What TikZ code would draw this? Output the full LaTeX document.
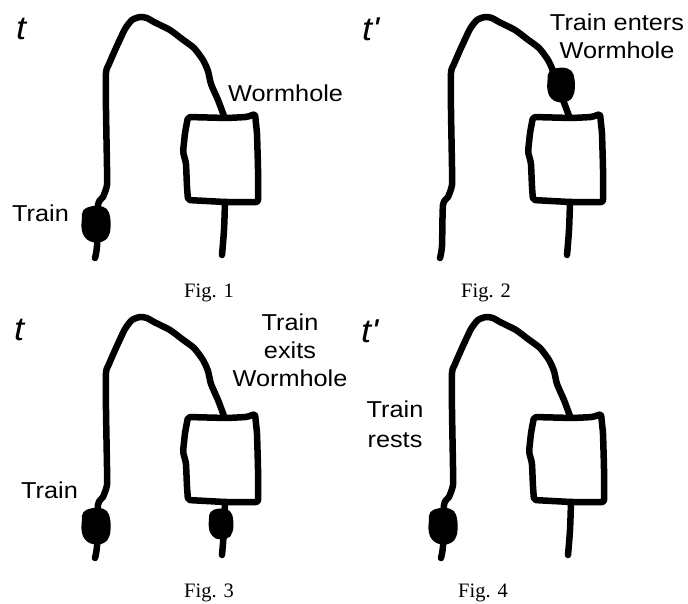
\documentclass[tikz,border=0pt]{standalone}
\usepackage{fontspec}
\setmainfont{Liberation Serif}
\newfontfamily\handfont[FakeStretch=1.1]{Liberation Sans}

\tikzset{
  track/.style={line width=6.5pt, line cap=round, line join=round},
  train/.style={fill=black, rounded corners=5pt},
  note/.style={font=\handfont\fontsize{23}{28}\selectfont, inner sep=0pt, align=center},
  clock/.style={font=\handfont\itshape\fontsize{33}{33}\selectfont, inner sep=0pt, anchor=base west},
  caption/.style={font=\fontsize{20.5}{24}\selectfont, inner sep=0pt, anchor=base},
}

% track loop that runs over the top and down into the wormhole box
\newcommand{\wormholetrack}{
  \draw[track] plot[smooth, tension=0.4] coordinates {
    (95,258) (97,246) (98,205) (103,197) (107,185) (107,167) (106,110) (106,73)
    (109,64) (116,48) (125,29) (132,20) (140,17) (147,18) (154,22) (170,30)
    (182,39) (194,48) (203,60) (208,71) (211,84) (218,100) (224,116)};
  \draw[track, rounded corners=2pt] (188,117) -- (227,118) -- (247,117) -- (255,114)
    -- (257,133) -- (258,167) -- (258,202) -- (225,202) -- (188,200)
    -- (187,187) -- (186,163) -- (183,152) -- (185,133) -- cycle;
  \draw[track] plot[smooth] coordinates {(225,202) (224,230) (222,255)};
}

% the train, drawn as a filled blob around #2
\newcommand{\trainblob}[2][]{
  \fill[train, shift={#2}, #1] (-14,-14) -- (0,-18) -- (12,-15) -- (15,-2) -- (14,12)
    -- (8,19) -- (-2,20) -- (-11,16) -- (-15,6) -- (-14,-5) -- cycle;
}

\begin{document}
\begin{tikzpicture}[x=1pt, y=-1pt]
  \useasboundingbox (0,0) rectangle (688,603);

  % Fig. 1
  \begin{scope}
    \wormholetrack
    \trainblob{(96,223)}
    \node[clock] (time1) at (16,39) {t};
    \node[note, anchor=base west] (hole1) at (228,101) {Wormhole};
    \node[note, anchor=base west] (train1) at (12,221) {Train};
  \end{scope}

  % Fig. 2
  \begin{scope}[shift={(345,0)}]
    \wormholetrack
    \trainblob[scale=0.95]{(216,84)}
    \node[clock] (time2) at (17,40) {t\textquotesingle};
    \node[note, anchor=north] (enters) at (272,14) {Train enters\\Wormhole};
  \end{scope}

  % Fig. 3
  \begin{scope}[shift={(0,300)}]
    \wormholetrack
    \trainblob{(96,225)}
    \trainblob[scale=0.85]{(221,223)}
    \node[clock] (time3) at (14,40) {t};
    \node[note, anchor=base west] (train3) at (21,198) {Train};
    \node[note, anchor=north] (exits) at (290,14) {Train\\exits\\Wormhole};
  \end{scope}

  % Fig. 4
  \begin{scope}[shift={(346,300)}]
    \wormholetrack
    \trainblob{(97,225)}
    \node[clock] (time4) at (15,42) {t\textquotesingle};
    \node[note, anchor=north, font=\handfont\fontsize{23}{30}\selectfont] (rests) at (49,101) {Train\\rests};
  \end{scope}

  \node[caption] (fig1) at (209,297) {Fig. 1};
  \node[caption] (fig2) at (486,297) {Fig. 2};
  \node[caption] (fig3) at (209,597) {Fig. 3};
  \node[caption] (fig4) at (483,597) {Fig. 4};
\end{tikzpicture}
\end{document}
